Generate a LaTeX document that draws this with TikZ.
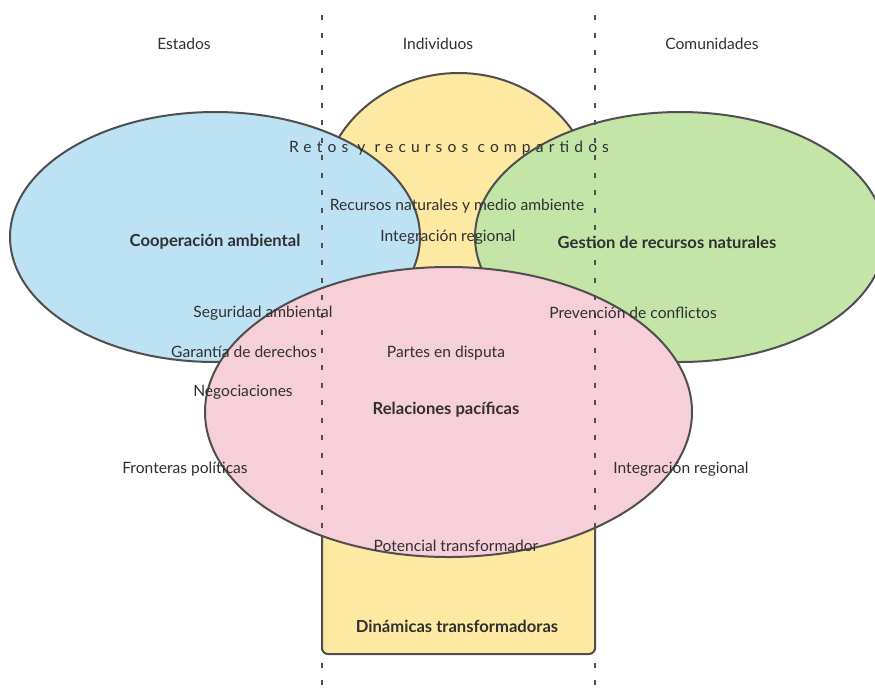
\documentclass[tikz,border=0pt]{standalone}
\usepackage{fontspec}
\setmainfont{Lato}
\definecolor{blu}{HTML}{BDE2F4}
\definecolor{grn}{HTML}{C4E5A8}
\definecolor{pnk}{HTML}{F6CFD9}
\definecolor{yel}{HTML}{FDE9A2}
\definecolor{linegray}{HTML}{4F4F4F}
\definecolor{txt}{HTML}{303030}
\begin{document}
\begin{tikzpicture}[x=1pt,y=-1pt,
  shapeline/.style={draw=linegray, line width=2pt},
  lbl/.style={text=txt, font=\fontsize{15.6}{17}\selectfont, inner sep=0pt},
  blbl/.style={text=txt, font=\fontsize{16.6}{18}\selectfont\bfseries, inner sep=0pt},
  sepline/.style={draw=linegray, line width=2.6pt, dash pattern=on 5pt off 12.5pt}]
\useasboundingbox (0,0) rectangle (875,691);
\fill[white] (0,0) rectangle (875,691);
% yellow keyhole shape
\path[shapeline, fill=yel] (322,201) arc[start angle=180,end angle=0,x radius=136.5pt,y radius=128pt]
  [rounded corners=6pt] -- (595,654) -- (322,654) -- cycle;
% blue and green
\path[shapeline, fill=blu] (215,237) ellipse[x radius=205pt, y radius=125pt];
\path[shapeline, fill=grn] (680,237) ellipse[x radius=205pt, y radius=125pt];
% pink
\path[shapeline, fill=pnk] (448.5,412) ellipse[x radius=243.5pt, y radius=145pt];
% separators
\coordinate (s1t) at (322,15); \coordinate (s1b) at (322,691);
\coordinate (s2t) at (595,15); \coordinate (s2b) at (595,691);
\draw[sepline] (s1t) -- (s1b);
\draw[sepline] (s2t) -- (s2b);
% labels
\node[lbl] (estados) at (184,44) {Estados};
\node[lbl] (individuos) at (438,44) {Individuos};
\node[lbl] (comunidades) at (712,44) {Comunidades};
\node[lbl] (retos) at (449,148) {\addfontfeatures{LetterSpace=33}Retos y recursos compartidos};
\node[lbl] (recnat) at (457,206) {Recursos naturales y medio ambiente};
\node[lbl] (intreg1) at (448,237) {Integración regional};
\node[blbl] (coop) at (215,242) {Cooperación ambiental};
\node[blbl] (gest) at (667,242) {Gestion de recursos naturales};
\node[lbl] (seg) at (263,313) {Seguridad ambiental};
\node[lbl] (prev) at (633,313) {Prevención de conflictos};
\node[lbl] (gar) at (244,352) {Garantía de derechos};
\node[lbl] (partes) at (446,353) {Partes en disputa};
\node[lbl] (neg) at (243,392) {Negociaciones};
\node[blbl] (rel) at (446,410) {Relaciones pacíficas};
\node[lbl] (front) at (185,469) {Fronteras políticas};
\node[lbl] (intreg2) at (681,469) {Integración regional};
\node[lbl] (pot) at (456,546) {Potencial transformador};
\node[blbl] (din) at (457,626) {Dinámicas transformadoras};
\end{tikzpicture}
\end{document}
